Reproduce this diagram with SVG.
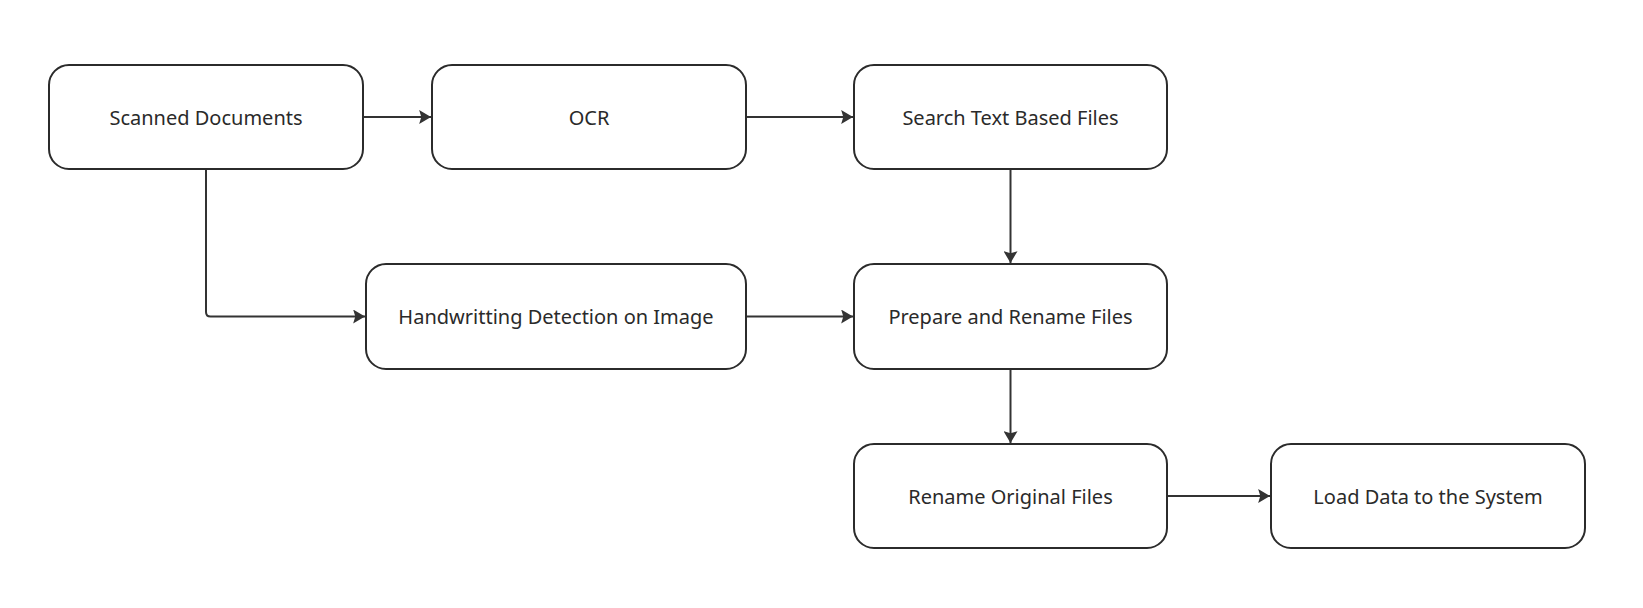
<svg xmlns="http://www.w3.org/2000/svg" width="1643" height="608" viewBox="0 0 1643 608">
<style>
.box{fill:#ffffff;stroke:#2b2b2b;stroke-width:2}
.lbl{font-family:"Noto Sans","Open Sans","DejaVu Sans",sans-serif;font-size:20px;fill:#2a2a2a;text-anchor:middle}
.edge{fill:none;stroke:#333333;stroke-width:2}
</style>
<defs>
<marker id="arr" markerUnits="userSpaceOnUse" markerWidth="12" markerHeight="14" viewBox="0 0 11 13" refX="11" refY="6.5" orient="auto">
<path d="M0,0 L11,6.5 L0,13 L2,6.5 z" fill="#333333"/>
</marker>
</defs>
<rect width="1643" height="608" fill="#ffffff"/>
<g id="connectors">
<path class="edge" d="M363,117 L431,117" marker-end="url(#arr)"/>
<path class="edge" d="M746,117 L853,117" marker-end="url(#arr)"/>
<path class="edge" d="M1010.5,169 L1010.5,263" marker-end="url(#arr)"/>
<path class="edge" d="M206,169 L206,312 Q206,316.5 210.5,316.5 L365,316.5" marker-end="url(#arr)"/>
<path class="edge" d="M746,316.5 L853,316.5" marker-end="url(#arr)"/>
<path class="edge" d="M1010.5,369 L1010.5,443" marker-end="url(#arr)"/>
<path class="edge" d="M1167,496 L1270,496" marker-end="url(#arr)"/>
</g>
<g id="n-scanned"><rect class="box" x="49" y="65" width="314" height="104" rx="20"/><text class="lbl" x="206" y="125">Scanned Documents</text></g>
<g id="n-ocr"><rect class="box" x="432" y="65" width="314" height="104" rx="20"/><text class="lbl" x="589" y="125">OCR</text></g>
<g id="n-search"><rect class="box" x="854" y="65" width="313" height="104" rx="20"/><text class="lbl" x="1010.5" y="125">Search Text Based Files</text></g>
<g id="n-hand"><rect class="box" x="366" y="264" width="380" height="105" rx="20"/><text class="lbl" x="556" y="324">Handwritting Detection on Image</text></g>
<g id="n-prepare"><rect class="box" x="854" y="264" width="313" height="105" rx="20"/><text class="lbl" x="1010.5" y="324">Prepare and Rename Files</text></g>
<g id="n-rename"><rect class="box" x="854" y="444" width="313" height="104" rx="20"/><text class="lbl" x="1010.5" y="503.5">Rename Original Files</text></g>
<g id="n-load"><rect class="box" x="1271" y="444" width="314" height="104" rx="20"/><text class="lbl" x="1428" y="503.5">Load Data to the System</text></g>
</svg>
